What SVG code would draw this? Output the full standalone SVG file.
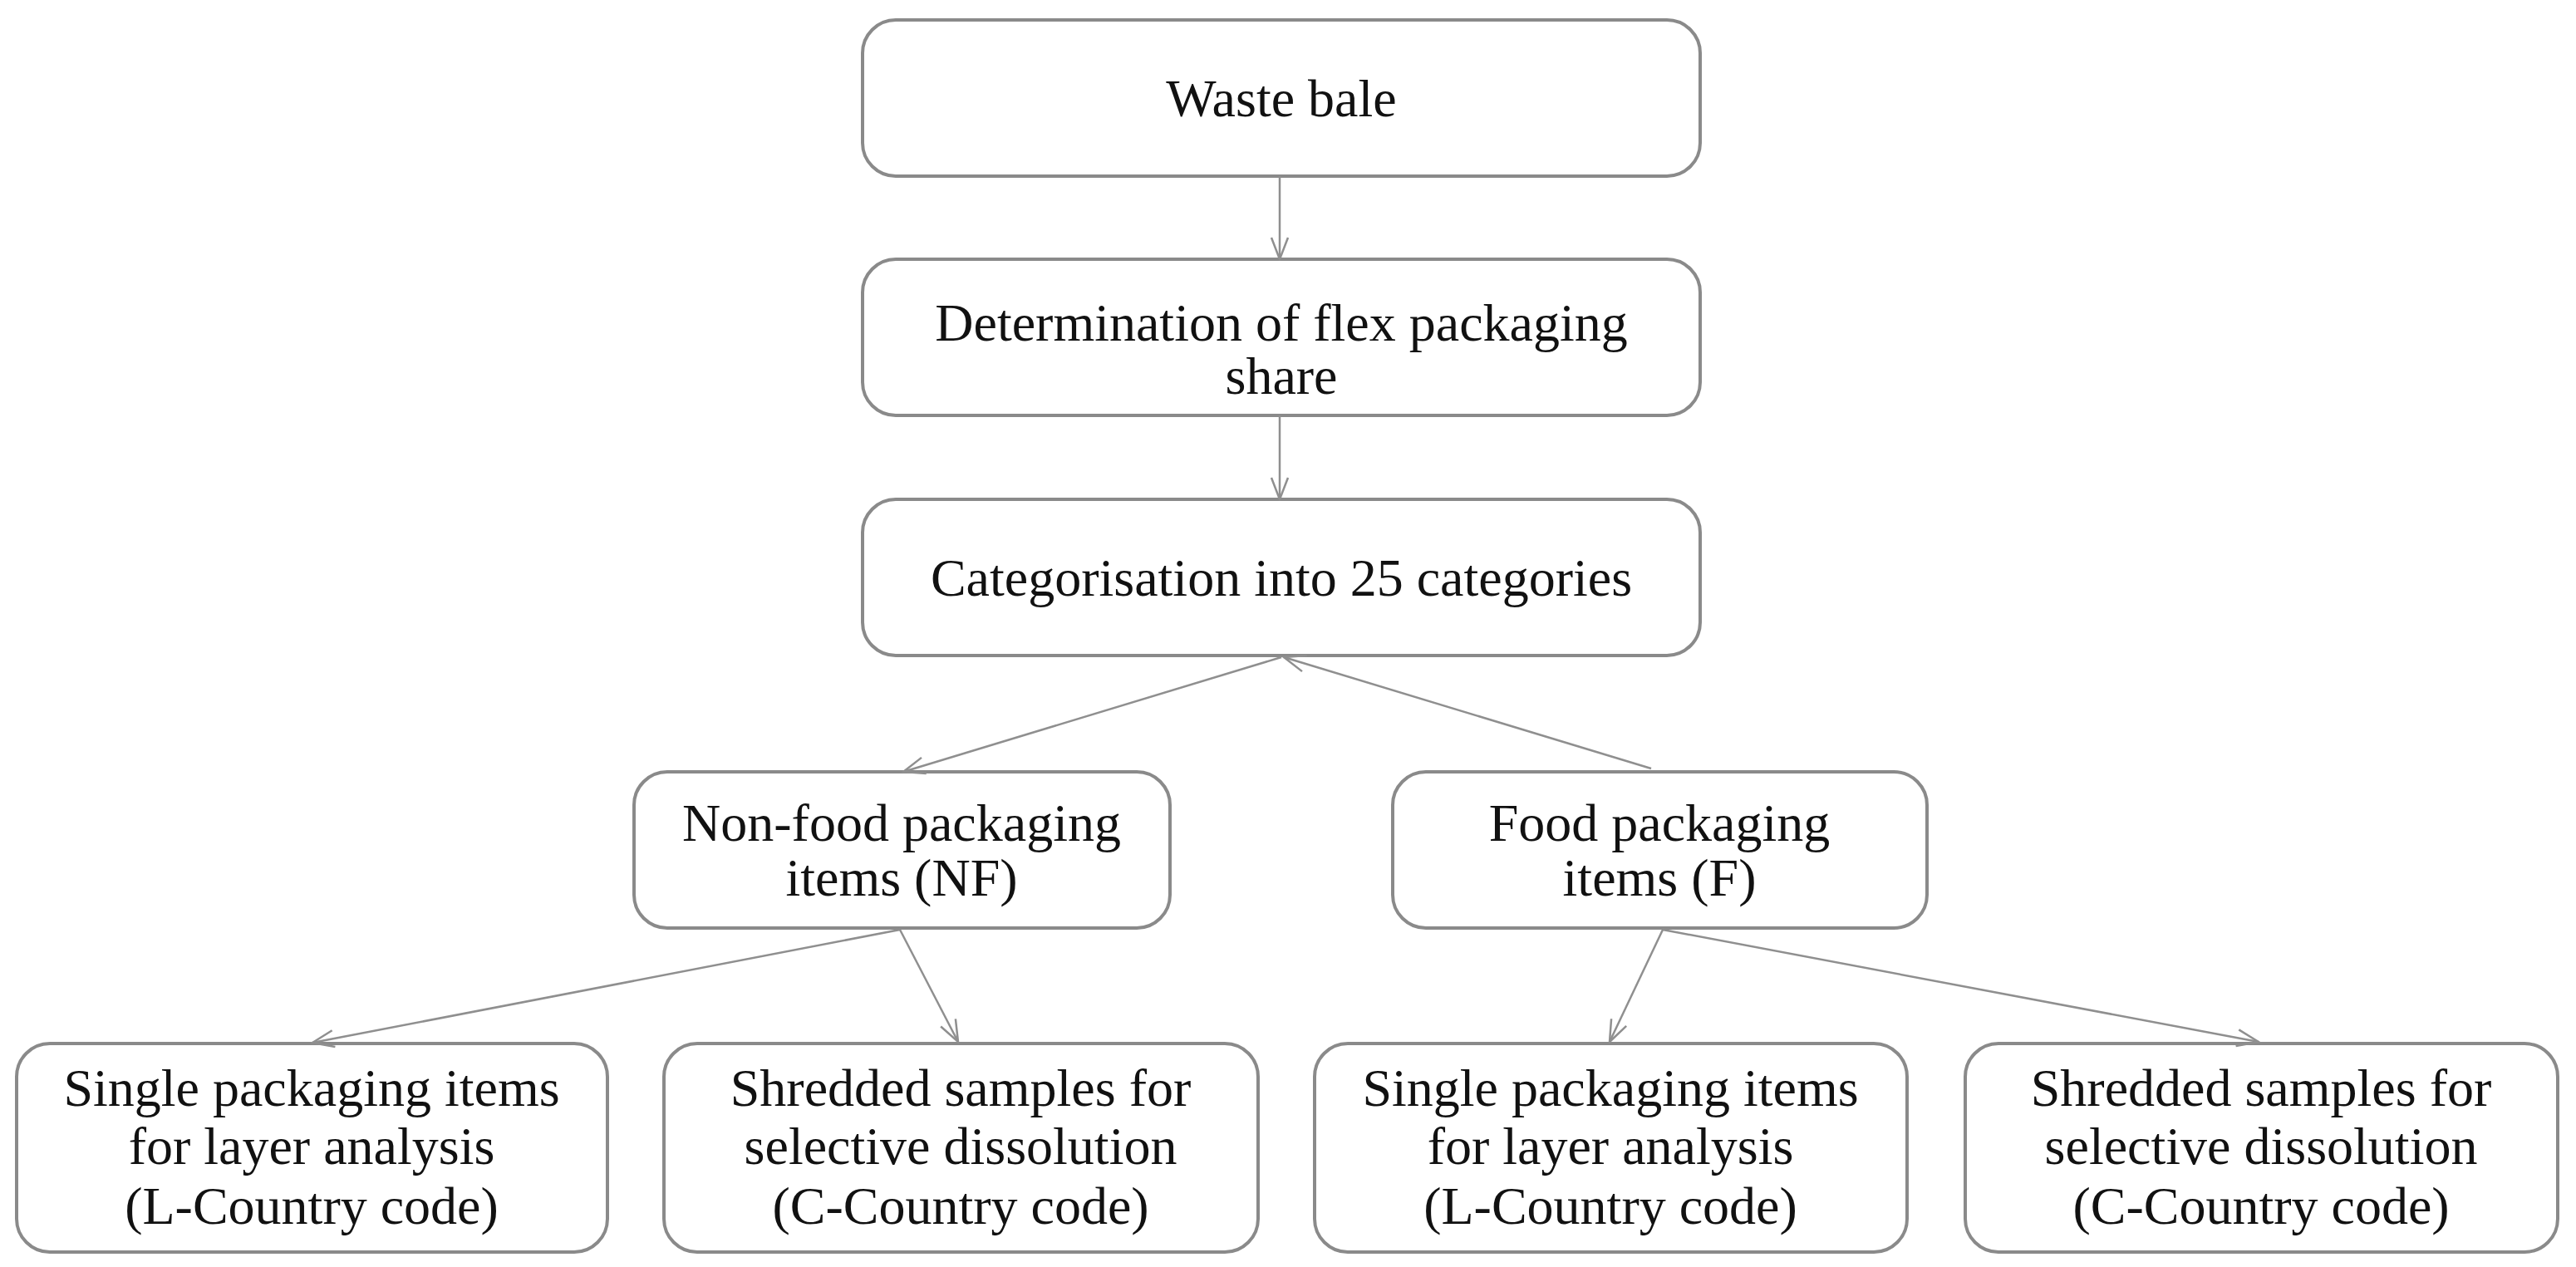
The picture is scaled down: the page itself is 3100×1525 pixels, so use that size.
<svg xmlns="http://www.w3.org/2000/svg" width="3100" height="1525" viewBox="0 0 3100 1525">
<style>
.b{fill:#fff;stroke:#8a8a8a;stroke-width:4}
.t{font-family:"Liberation Serif","DejaVu Serif",serif;font-size:64px;fill:#111;text-anchor:middle}
.c line{stroke:#8f8f8f;stroke-width:2.5;marker-end:url(#a)}
</style>
<defs><marker id="a" markerWidth="30" markerHeight="30" refX="28" refY="15" orient="auto" markerUnits="userSpaceOnUse"><path d="M2,5 L28,15 L2,25" fill="none" stroke="#8f8f8f" stroke-width="2.5"/></marker></defs>
<rect width="3100" height="1525" fill="#fff"/>
<g id="n1"><rect class="b" x="1038" y="24" width="1008" height="188" rx="40"/><text class="t" x="1542" y="140">Waste bale</text></g>
<g id="n2"><rect class="b" x="1038" y="312" width="1008" height="188" rx="40"/><text class="t" x="1542" y="410">Determination of flex packaging</text><text class="t" x="1542" y="474">share</text></g>
<g id="n3"><rect class="b" x="1038" y="601" width="1008" height="188" rx="40"/><text class="t" x="1542" y="717">Categorisation into 25 categories</text></g>
<g id="n4"><rect class="b" x="763" y="929" width="645" height="188" rx="40"/><text class="t" x="1085" y="1012">Non-food packaging</text><text class="t" x="1085" y="1078">items (NF)</text></g>
<g id="n5"><rect class="b" x="1676" y="929" width="643" height="188" rx="40"/><text class="t" x="1997" y="1012">Food packaging</text><text class="t" x="1997" y="1078">items (F)</text></g>
<g id="n6"><rect class="b" x="20" y="1256" width="711" height="251" rx="40"/><text class="t" x="375" y="1331">Single packaging items</text><text class="t" x="375" y="1401">for layer analysis</text><text class="t" x="375" y="1473">(L-Country code)</text></g>
<g id="n7"><rect class="b" x="799" y="1256" width="715" height="251" rx="40"/><text class="t" x="1156" y="1331">Shredded samples for</text><text class="t" x="1156" y="1401">selective dissolution</text><text class="t" x="1156" y="1473">(C-Country code)</text></g>
<g id="n8"><rect class="b" x="1582" y="1256" width="713" height="251" rx="40"/><text class="t" x="1938" y="1331">Single packaging items</text><text class="t" x="1938" y="1401">for layer analysis</text><text class="t" x="1938" y="1473">(L-Country code)</text></g>
<g id="n9"><rect class="b" x="2365" y="1256" width="713" height="251" rx="40"/><text class="t" x="2721" y="1331">Shredded samples for</text><text class="t" x="2721" y="1401">selective dissolution</text><text class="t" x="2721" y="1473">(C-Country code)</text></g>
<g class="c">
<line x1="1540" y1="212" x2="1540" y2="312"/>
<line x1="1540" y1="500" x2="1540" y2="601"/>
<line x1="1542" y1="791" x2="1087" y2="929"/>
<line x1="1987" y1="925" x2="1545" y2="791"/>
<line x1="1083" y1="1119" x2="376" y2="1255"/>
<line x1="1083" y1="1119" x2="1153" y2="1254"/>
<line x1="2001" y1="1119" x2="1937" y2="1254"/>
<line x1="2001" y1="1119" x2="2718" y2="1254"/>
</g>
</svg>
